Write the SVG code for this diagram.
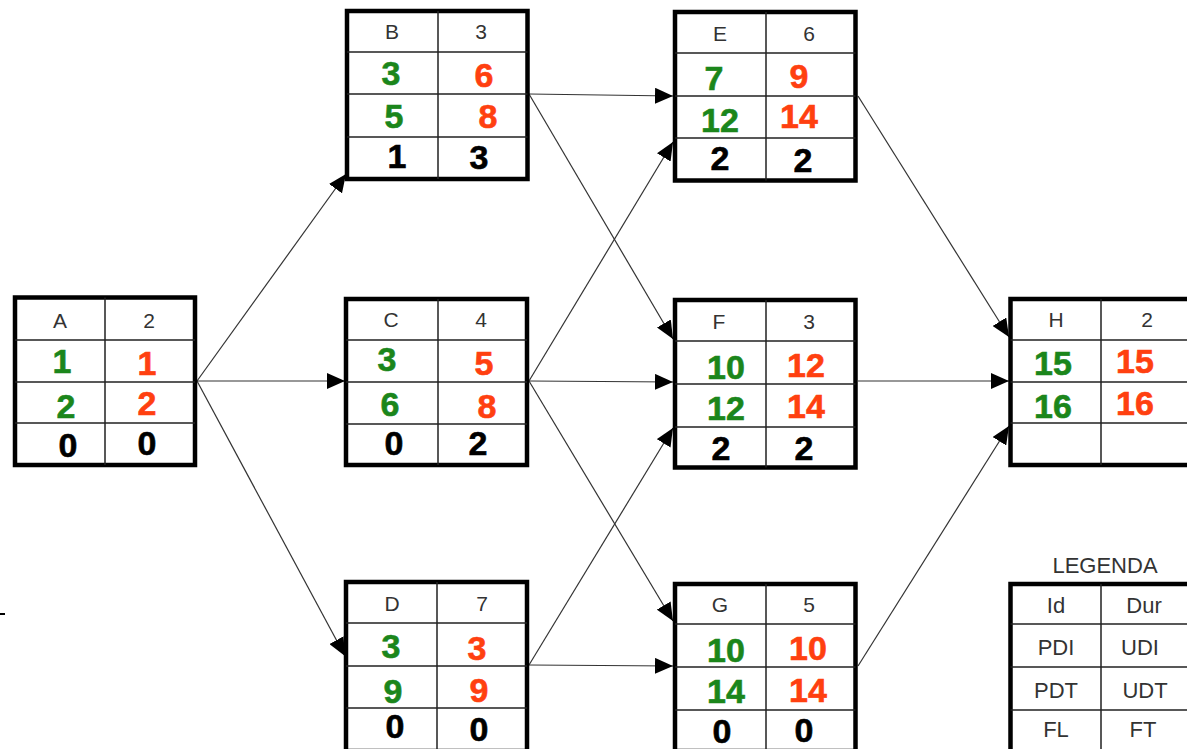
<svg xmlns="http://www.w3.org/2000/svg" width="1187" height="749" viewBox="0 0 1187 749">
<style>
.box{fill:#fff;stroke:#000;stroke-width:4.5}
.grid{stroke:#222;stroke-width:1.5;fill:none}
.hd{font-family:"Liberation Sans",Arial,sans-serif;font-size:21px;fill:#333;text-anchor:middle}
.n{font-family:"Liberation Sans",Arial,sans-serif;font-size:34px;font-weight:bold;text-anchor:middle;stroke-width:0.6}
.g{fill:#1b861b;stroke:#1b861b}.r{fill:#ff4010;stroke:#ff4010}.k{fill:#000;stroke:#000}
.lg{font-family:"Liberation Sans",Arial,sans-serif;font-size:22px;fill:#333;text-anchor:middle}
.c{stroke:#333;stroke-width:1.2;fill:none;marker-end:url(#ah)}
</style>
<defs>
<marker id="ah" viewBox="0 0 18 16" refX="18" refY="8" markerWidth="18" markerHeight="16" markerUnits="userSpaceOnUse" orient="auto">
<path d="M0,0 L18,8 L0,16 z" fill="#000"/>
</marker>
</defs>
<rect width="1187" height="749" fill="#fff"/>
<rect x="0" y="613" width="5" height="2" fill="#000"/>

<g id="connectors">
<line class="c" x1="197" y1="381" x2="346" y2="174"/>
<line class="c" x1="197" y1="381" x2="345" y2="381"/>
<line class="c" x1="197" y1="381" x2="345" y2="656"/>
<line class="c" x1="529" y1="94" x2="673" y2="96"/>
<line class="c" x1="529" y1="94" x2="673" y2="339"/>
<line class="c" x1="529" y1="381" x2="673" y2="142"/>
<line class="c" x1="529" y1="381" x2="673" y2="382"/>
<line class="c" x1="529" y1="381" x2="673" y2="621"/>
<line class="c" x1="529" y1="665" x2="673" y2="428"/>
<line class="c" x1="529" y1="665" x2="673" y2="666"/>
<line class="c" x1="858" y1="96" x2="1009" y2="337"/>
<line class="c" x1="858" y1="381" x2="1009" y2="381"/>
<line class="c" x1="858" y1="666" x2="1009" y2="426"/>
</g>

<g id="node-A">
<rect class="box" x="15" y="297.5" width="180" height="167.5"/>
<path class="grid" d="M105,297.5V465M15,340H195M15,382H195M15,423H195"/>
<text class="hd" x="60" y="328">A</text><text class="hd" x="149" y="328">2</text>
<text class="n g" x="62" y="373">1</text><text class="n r" x="147" y="375">1</text>
<text class="n g" x="66" y="418">2</text><text class="n r" x="147" y="415">2</text>
<text class="n k" x="68" y="457">0</text><text class="n k" x="147" y="455">0</text>
</g>

<g id="node-B">
<rect class="box" x="347" y="11" width="180.5" height="168"/>
<path class="grid" d="M438,11V179M347,52H527.5M347,94H527.5M347,137H527.5"/>
<text class="hd" x="392" y="39">B</text><text class="hd" x="481" y="39">3</text>
<text class="n g" x="391" y="85">3</text><text class="n r" x="484" y="87">6</text>
<text class="n g" x="394" y="128">5</text><text class="n r" x="488" y="128">8</text>
<text class="n k" x="397" y="168">1</text><text class="n k" x="479" y="169">3</text>
</g>

<g id="node-C">
<rect class="box" x="346" y="299" width="181" height="166"/>
<path class="grid" d="M438,299V465M346,340H527M346,382H527M346,424H527"/>
<text class="hd" x="391" y="327">C</text><text class="hd" x="481" y="327">4</text>
<text class="n g" x="387" y="371">3</text><text class="n r" x="484" y="375">5</text>
<text class="n g" x="390" y="416">6</text><text class="n r" x="487" y="418">8</text>
<text class="n k" x="394" y="455">0</text><text class="n k" x="478" y="455">2</text>
</g>

<g id="node-D">
<rect class="box" x="346" y="582" width="181" height="169"/>
<path class="grid" d="M437,582V751M346,623H527M346,666H527M346,708H527"/>
<text class="hd" x="392" y="611">D</text><text class="hd" x="482" y="611">7</text>
<text class="n g" x="391" y="658">3</text><text class="n r" x="477" y="660">3</text>
<text class="n g" x="393" y="703">9</text><text class="n r" x="479" y="702">9</text>
<text class="n k" x="395" y="738">0</text><text class="n k" x="479" y="741">0</text>
</g>

<g id="node-E">
<rect class="box" x="675" y="12" width="180.5" height="168.5"/>
<path class="grid" d="M766,12V180.5M675,53H855.5M675,96H855.5M675,138H855.5"/>
<text class="hd" x="720" y="41">E</text><text class="hd" x="809" y="41">6</text>
<text class="n g" x="714" y="90">7</text><text class="n r" x="799" y="88">9</text>
<text class="n g" x="720" y="132">12</text><text class="n r" x="799" y="128">14</text>
<text class="n k" x="720" y="170">2</text><text class="n k" x="803" y="172">2</text>
</g>

<g id="node-F">
<rect class="box" x="675" y="300" width="180.5" height="167.5"/>
<path class="grid" d="M766,300V467.5M675,341H855.5M675,384H855.5M675,427H855.5"/>
<text class="hd" x="719" y="329">F</text><text class="hd" x="809" y="329">3</text>
<text class="n g" x="726" y="379">10</text><text class="n r" x="806" y="377">12</text>
<text class="n g" x="726" y="420">12</text><text class="n r" x="806" y="418">14</text>
<text class="n k" x="721" y="460">2</text><text class="n k" x="804" y="460">2</text>
</g>

<g id="node-G">
<rect class="box" x="675" y="584" width="180.5" height="167"/>
<path class="grid" d="M766,584V751M675,624H855.5M675,667H855.5M675,710H855.5"/>
<text class="hd" x="720" y="612">G</text><text class="hd" x="809" y="612">5</text>
<text class="n g" x="726" y="662">10</text><text class="n r" x="808" y="660">10</text>
<text class="n g" x="726" y="703">14</text><text class="n r" x="808" y="702">14</text>
<text class="n k" x="722" y="743">0</text><text class="n k" x="804" y="742">0</text>
</g>

<g id="node-H">
<rect class="box" x="1010.5" y="299" width="182" height="166"/>
<path class="grid" d="M1101,299V465M1010.5,340H1192M1010.5,382H1192M1010.5,423H1192"/>
<text class="hd" x="1056" y="327">H</text><text class="hd" x="1147" y="327">2</text>
<text class="n g" x="1053" y="375">15</text><text class="n r" x="1135" y="373">15</text>
<text class="n g" x="1053" y="418">16</text><text class="n r" x="1135" y="415">16</text>
</g>

<g id="legend">
<text class="lg" x="1105" y="573">LEGENDA</text>
<rect class="box" x="1010.5" y="584" width="182" height="168"/>
<path class="grid" d="M1101,584V752M1010.5,624H1192M1010.5,667H1192M1010.5,710H1192"/>
<text class="lg" x="1056" y="613">Id</text><text class="lg" x="1144" y="613">Dur</text>
<text class="lg" x="1056" y="655">PDI</text><text class="lg" x="1140" y="655">UDI</text>
<text class="lg" x="1056" y="698">PDT</text><text class="lg" x="1145" y="698">UDT</text>
<text class="lg" x="1056" y="737">FL</text><text class="lg" x="1143" y="737">FT</text>
</g>
</svg>
